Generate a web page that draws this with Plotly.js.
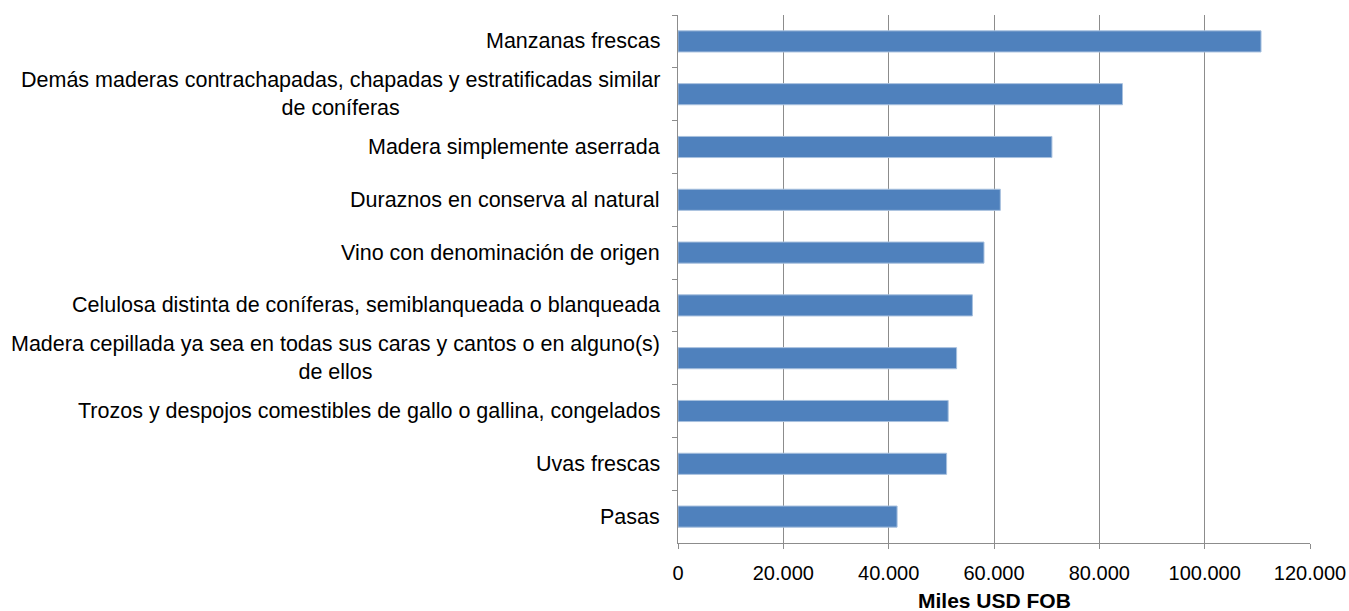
<!DOCTYPE html>
<html>
<head>
<meta charset="utf-8">
<script src="https://cdn.plot.ly/plotly-3.0.1.min.js"></script>
<style>html,body{margin:0;padding:0;background:#fff;}#chart{width:1349px;height:611px;}</style>
</head>
<body>
<div id="chart"></div>
<script>
var categories = [
  "Manzanas frescas",
  "Demás maderas contrachapadas, chapadas y estratificadas similar<br>de coníferas",
  "Madera simplemente aserrada",
  "Duraznos en conserva al natural",
  "Vino con denominación de origen",
  "Celulosa distinta de coníferas, semiblanqueada o blanqueada",
  "Madera cepillada ya sea en todas sus caras y cantos o en alguno(s)<br>de ellos",
  "Trozos y despojos comestibles de gallo o gallina, congelados",
  "Uvas frescas",
  "Pasas"
];
var values = [110700, 84400, 71000, 61200, 58100, 55900, 52900, 51300, 51000, 41600];
var xTickValues = [0, 20000, 40000, 60000, 80000, 100000, 120000];
var xAxisTitle = "Miles USD FOB";

var font = "Liberation Sans, Arial, sans-serif";
var annotations = categories.map(function (c) {
  return {
    text: c, x: 0, xref: "paper", xanchor: "right", xshift: -16,
    y: c, yref: "y", yanchor: "middle", align: "center", showarrow: false,
    font: {family: font, size: 21.5, color: "#000"}
  };
});
annotations.push({
  text: "<b>" + xAxisTitle + "</b>", x: 0.5, xref: "paper", xanchor: "center",
  y: 0, yref: "paper", yanchor: "middle", yshift: -57, showarrow: false,
  borderpad: 0,
  font: {family: font, size: 21, color: "#000"}
});

var trace = {
  type: "bar", orientation: "h", x: values, y: categories,
  marker: {color: "#4F81BD", line: {color: "#A7C0DE", width: 1}},
  hoverinfo: "x+y"
};

var layout = {
  width: 1349, height: 611,
  margin: {l: 678, r: 39, t: 15, b: 68},
  paper_bgcolor: "#fff", plot_bgcolor: "#fff",
  separators: ",.",
  bargap: 0.6,
  showlegend: false,
  font: {family: font, size: 20, color: "#000"},
  xaxis: {
    range: [0, 120000], tickvals: xTickValues, tickformat: ",d",
    showgrid: true, gridcolor: "#8C8C8C", gridwidth: 1,
    showline: true, linecolor: "#8C8C8C", linewidth: 1,
    ticks: "outside", ticklen: 5, tickcolor: "#8C8C8C",
    ticklabelstandoff: 7,
    zeroline: false, fixedrange: true,
    tickfont: {family: font, size: 20, color: "#000"}
  },
  yaxis: {
    autorange: "reversed", type: "category",
    showticklabels: false, showgrid: false, zeroline: false,
    showline: true, linecolor: "#8C8C8C", linewidth: 1,
    ticks: "outside", tickson: "boundaries", ticklen: 5, tickcolor: "#8C8C8C",
    fixedrange: true
  },
  annotations: annotations
};

Plotly.newPlot("chart", [trace], layout, {displayModeBar: false, staticPlot: true});
</script>
</body>
</html>
